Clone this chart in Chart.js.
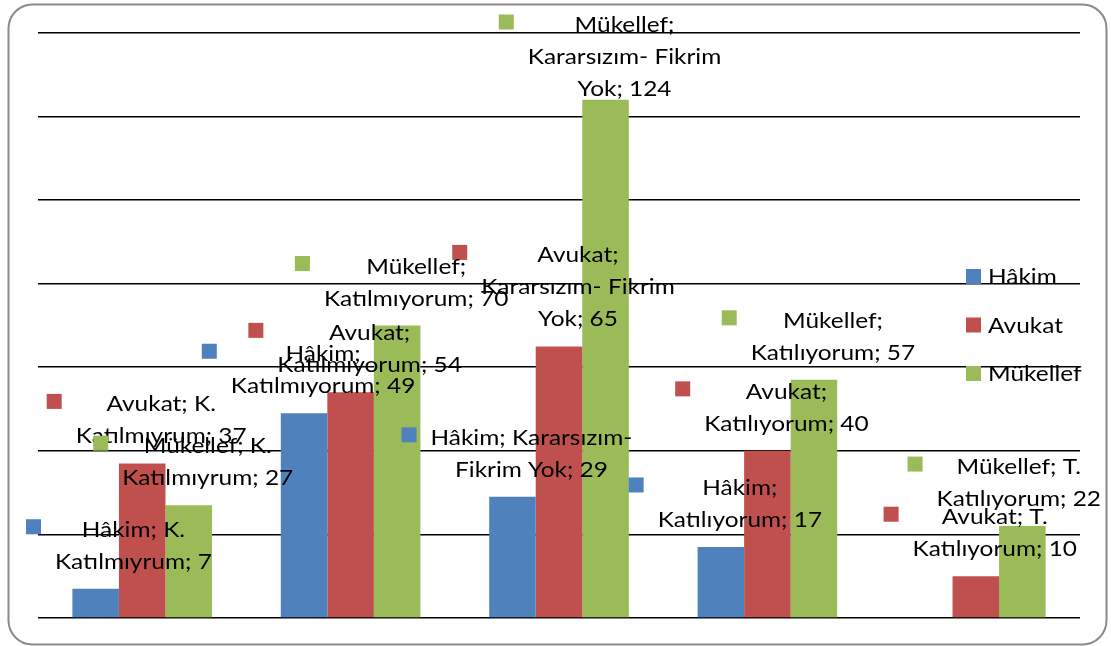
<!DOCTYPE html>
<html>
<head>
<meta charset="utf-8">
<title>Hâkim / Avukat / Mükellef</title>
<script src="https://cdn.jsdelivr.net/npm/chart.js@4.4.1/dist/chart.umd.min.js"></script>
<style>
  html, body { margin: 0; padding: 0; background: #fff; }
  #wrap { position: relative; width: 1111px; height: 646px; }
</style>
</head>
<body>
<div id="wrap"><canvas id="chart"></canvas></div>
<script>
// answer categories and counts per group
const categories = ['K. Katılmıyrum', 'Katılmıyorum', 'Kararsızım- Fikrim Yok', 'Katılıyorum', 'T. Katılıyorum'];
const hakim    = [7, 49, 29, 17, null];
const avukat   = [37, 54, 65, 40, 10];
const mukellef = [27, 70, 124, 57, 22];

const yMin = 0, yMax = 140, yStep = 20;

const COLORS = { hakim: '#4F81BD', avukat: '#C0504D', mukellef: '#9BBB59' };

const FONT = '21px Lato';
const KEY = 15;       // legend key square
const KEY_GAP = 14;   // key -> text
const LINE_H = 32;
const WRAP_W = 206;

// labels are drawn a bit wider than Lato's natural advance
function textScale(ctx) {
  ctx.font = FONT;
  return 171 / ctx.measureText('Katılmıyrum; 37').width;
}

function wrapWords(ctx, text, sx) {
  const words = text.split(' ');
  const lines = [];
  let cur = '';
  words.forEach(w => {
    const test = cur ? cur + ' ' + w : w;
    if (cur && ctx.measureText(test).width * sx > WRAP_W) {
      lines.push(cur);
      cur = w;
    } else {
      cur = test;
    }
  });
  if (cur) lines.push(cur);
  return lines;
}

function scaledText(ctx, str, x, y, sx) {
  ctx.save();
  ctx.translate(x, y);
  ctx.scale(sx, 1);
  ctx.fillText(str, 0, 0);
  ctx.restore();
}

// white background + rounded frame
const frame = {
  id: 'frame',
  beforeDraw(chart) {
    const ctx = chart.ctx;
    ctx.save();
    ctx.fillStyle = '#fff';
    ctx.fillRect(0, 0, chart.width, chart.height);
    ctx.strokeStyle = '#8a8a8a';
    ctx.lineWidth = 2;
    ctx.beginPath();
    ctx.roundRect(8.5, 4.5, chart.width - 13, chart.height - 6, 24);
    ctx.stroke();
    ctx.restore();
  }
};

// "Series; Category; value" labels with a colour key
const barLabels = {
  id: 'barLabels',
  afterDatasetsDraw(chart) {
    const ctx = chart.ctx;
    ctx.save();
    const sx = textScale(ctx);
    const minLeft = 26, maxRight = chart.width - 10, minBase = 32;
    chart.data.datasets.forEach((ds, di) => {
      const meta = chart.getDatasetMeta(di);
      meta.data.forEach((bar, i) => {
        const v = ds.data[i];
        if (v == null) return;
        const lines = wrapWords(ctx, `${ds.label}; ${categories[i]}; ${v}`, sx);
        const textW = Math.max(...lines.map(l => ctx.measureText(l).width)) * sx;
        const blockW = KEY + KEY_GAP + textW;
        let left = bar.x + 4.5 - blockW / 2;
        left = Math.min(Math.max(left, minLeft), maxRight - blockW);
        let first = bar.y - 20 - (lines.length - 1) * LINE_H;
        first = Math.max(first, minBase);

        ctx.fillStyle = ds.backgroundColor;
        ctx.fillRect(left, first - 17.5, KEY, KEY);

        ctx.fillStyle = '#000';
        ctx.textAlign = 'center';
        ctx.textBaseline = 'alphabetic';
        const cx = left + KEY + KEY_GAP + textW / 2;
        lines.forEach((l, k) => scaledText(ctx, l, cx, first + k * LINE_H, sx));
      });
    });
    ctx.restore();
  }
};

// legend sits on top of the plot, right side
const sideLegend = {
  id: 'sideLegend',
  afterDraw(chart) {
    const ctx = chart.ctx;
    ctx.save();
    const sx = textScale(ctx);
    ctx.textAlign = 'left';
    ctx.textBaseline = 'alphabetic';
    chart.data.datasets.forEach((ds, i) => {
      const top = 269 + i * 48.5;
      ctx.fillStyle = ds.backgroundColor;
      ctx.fillRect(966, top, KEY, KEY);
      ctx.fillStyle = '#000';
      scaledText(ctx, ds.label, 988, top + 15, sx);
    });
    ctx.restore();
  }
};

Chart.defaults.font.family = 'Lato';

new Chart(document.getElementById('chart'), {
  type: 'bar',
  data: {
    labels: categories,
    datasets: [
      { label: 'Hâkim', data: hakim, backgroundColor: COLORS.hakim },
      { label: 'Avukat', data: avukat, backgroundColor: COLORS.avukat },
      { label: 'Mükellef', data: mukellef, backgroundColor: COLORS.mukellef }
    ]
  },
  options: {
    responsive: true,
    maintainAspectRatio: false,
    animation: false,
    layout: { padding: { left: 38, right: 31, top: 33, bottom: 28 } },
    datasets: {
      bar: { categoryPercentage: 0.67, barPercentage: 1, borderWidth: 0 }
    },
    plugins: {
      legend: { display: false },
      tooltip: { enabled: false }
    },
    scales: {
      x: { display: false },
      y: {
        min: yMin,
        max: yMax,
        ticks: { display: false, stepSize: yStep },
        border: { display: false },
        grid: { color: '#000', lineWidth: 1.6, drawTicks: false }
      }
    }
  },
  plugins: [frame, barLabels, sideLegend]
});
</script>
</body>
</html>
